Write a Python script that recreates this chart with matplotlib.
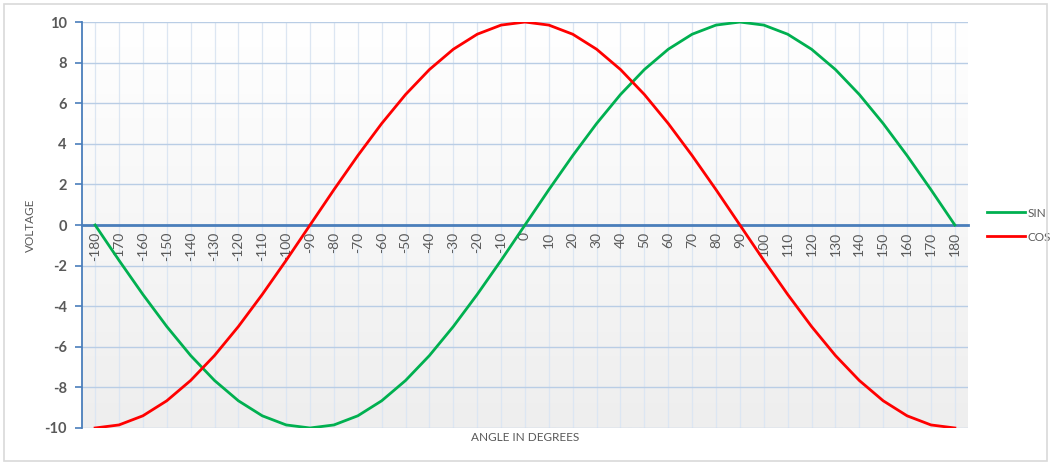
import numpy as np
import matplotlib
matplotlib.use("Agg")
import matplotlib.pyplot as plt
from matplotlib.patches import Rectangle

# Angles en degrés (catégories)
angles = [-180, -170, -160, -150, -140, -130, -120, -110, -100, -90,
          -80, -70, -60, -50, -40, -30, -20, -10, 0,
          10, 20, 30, 40, 50, 60, 70, 80, 90,
          100, 110, 120, 130, 140, 150, 160, 170, 180]

sin_vals = [0, -1.74, -3.42, -5.00, -6.43, -7.66, -8.66, -9.40, -9.85, -10,
            -9.85, -9.40, -8.66, -7.66, -6.43, -5.00, -3.42, -1.74, 0,
            1.74, 3.42, 5.00, 6.43, 7.66, 8.66, 9.40, 9.85, 10,
            9.85, 9.40, 8.66, 7.66, 6.43, 5.00, 3.42, 1.74, 0]

cos_vals = [-10, -9.85, -9.40, -8.66, -7.66, -6.43, -5.00, -3.42, -1.74, 0,
            1.74, 3.42, 5.00, 6.43, 7.66, 8.66, 9.40, 9.85, 10,
            9.85, 9.40, 8.66, 7.66, 6.43, 5.00, 3.42, 1.74, 0,
            -1.74, -3.42, -5.00, -6.43, -7.66, -8.66, -9.40, -9.85, -10]

y_ticks = [-10, -8, -6, -4, -2, 0, 2, 4, 6, 8, 10]

plt.rcParams["font.family"] = ["Lato", "DejaVu Sans"]
GRIS = "#595959"
BLEU = "#4a7ebb"

fig = plt.figure(figsize=(10.51, 4.65), dpi=100)
fig.patches.append(Rectangle((0.004, 0.008), 0.992, 0.984, transform=fig.transFigure,
                             fill=False, edgecolor="#d9d9d9", linewidth=1.2))
ax = fig.add_axes([0.078, 0.0796, 0.843, 0.873])

x = np.arange(len(angles))

# Fond en dégradé blanc -> gris clair
grad = np.linspace(0, 1, 256).reshape(-1, 1)
ax.imshow(grad, extent=[0, 1, 0, 1], transform=ax.transAxes, aspect="auto",
          cmap=matplotlib.colors.LinearSegmentedColormap.from_list("g", ["#eeeeee", "#ffffff"]),
          origin="lower", zorder=0)

for xi in x:
    ax.axvline(xi, color="#dce6f2", linewidth=0.9, zorder=1)
for yv in y_ticks:
    ax.axhline(yv, color="#b9cde5", linewidth=1.0, zorder=1)

ax.plot(x, sin_vals, color="#00b050", linewidth=2, label="SIN", zorder=3)
ax.plot(x, cos_vals, color="#ff0000", linewidth=2, label="COS", zorder=3)

ax.set_xlim(-0.55, len(angles) - 0.45)
ax.set_ylim(-10, 10)

ax.spines["top"].set_visible(False)
ax.spines["right"].set_visible(False)
ax.spines["left"].set_color(BLEU)
ax.spines["left"].set_linewidth(1.3)
ax.spines["bottom"].set_position(("data", 0))
ax.spines["bottom"].set_color(BLEU)
ax.spines["bottom"].set_linewidth(2)
ax.spines["bottom"].set_zorder(2)

ax.set_yticks(y_ticks)
ax.set_yticklabels([str(v) for v in y_ticks], fontsize=10.5, fontweight="bold", color=GRIS)
ax.tick_params(axis="y", length=5, width=1.2, color=BLEU, pad=6)

ax.set_xticks(x)
ax.set_xticklabels([str(a) for a in angles], rotation=90, fontsize=10, color=GRIS)
ax.tick_params(axis="x", length=0, pad=5)

ax.set_ylabel("VOLTAGE", fontsize=8.5, color=GRIS, labelpad=6)
fig.text(0.5, 0.06, "ANGLE IN DEGREES", ha="center", va="center", fontsize=8.5, color=GRIS)

ax.legend(loc="center left", bbox_to_anchor=(1.01, 0.5), frameon=False,
          fontsize=8.5, labelcolor=GRIS, handlelength=3.2, handletextpad=0.2,
          labelspacing=1.1)

fig.savefig("out.png", dpi=100)
